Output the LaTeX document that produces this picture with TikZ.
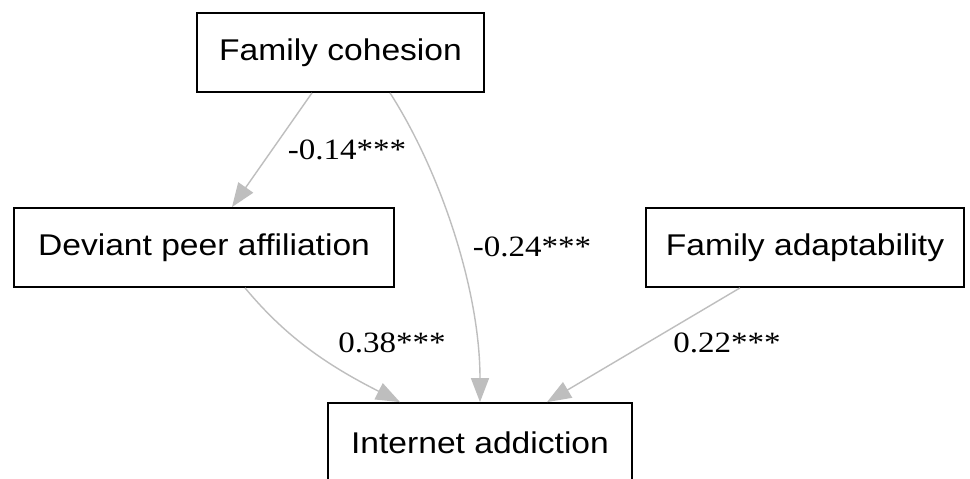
\documentclass[tikz,border=0pt]{standalone}
\usepackage{fontspec}
\setmainfont{Liberation Serif}
\newfontfamily\boxfont{Liberation Sans}
\usepackage{graphicx}
\usepackage{tikz}
\usetikzlibrary{arrows.meta}
\definecolor{pathgray}{RGB}{190,190,190}
\newcommand{\wide}[1]{\scalebox{1.12}[1]{#1}}

\begin{document}
\begin{tikzpicture}[x=1pt,y=-1pt,
    box/.style={draw=black,line width=1.8pt,inner sep=0pt,
      font=\boxfont\fontsize{30}{36}\selectfont},
    edge/.style={draw=pathgray,line width=1.4pt,
      -{Triangle[length=24pt,width=18pt]}},
    coef/.style={font=\fontsize{29.5}{34}\selectfont,inner sep=0pt}]
  \useasboundingbox (0,0) rectangle (970,479);
  \clip (0,0) rectangle (970,479);
  \fill[white] (0,0) rectangle (970,479);
  % variables
  \node[box,minimum width=287pt,minimum height=79pt] (cohesion) at (340.5,52.5)
    {\wide{Family cohesion}};
  \node[box,minimum width=380pt,minimum height=79pt] (peer) at (204,247.5)
    {\wide{Deviant peer affiliation}};
  \node[box,minimum width=318pt,minimum height=79pt] (adapt) at (805,247.5)
    {\wide{Family adaptability}};
  \node[box,minimum width=304pt,minimum height=79pt] (addict) at (480,442.5)
    {\wide{Internet addiction}};
  % paths
  \draw[edge] ([xshift=-28.5pt]cohesion.south) -- ([xshift=28pt]peer.north);
  \draw[edge] ([xshift=49.5pt]cohesion.south)
    .. controls +(50,78) and +(0,-113) .. (addict.north);
  \draw[edge] ([xshift=41pt]peer.south)
    .. controls +(40,48) and +(-75,-38) .. ([xshift=-80pt]addict.north);
  \draw[edge] ([xshift=-65pt]adapt.south) -- ([xshift=67pt]addict.north);
  % coefficients
  \node[coef] (c1) at (347,150) {\wide{-0.14***}};
  \node[coef] (c2) at (532,247) {\wide{-0.24***}};
  \node[coef] (c3) at (392,343) {\wide{0.38***}};
  \node[coef] (c4) at (727,343) {\wide{0.22***}};
\end{tikzpicture}
\end{document}
